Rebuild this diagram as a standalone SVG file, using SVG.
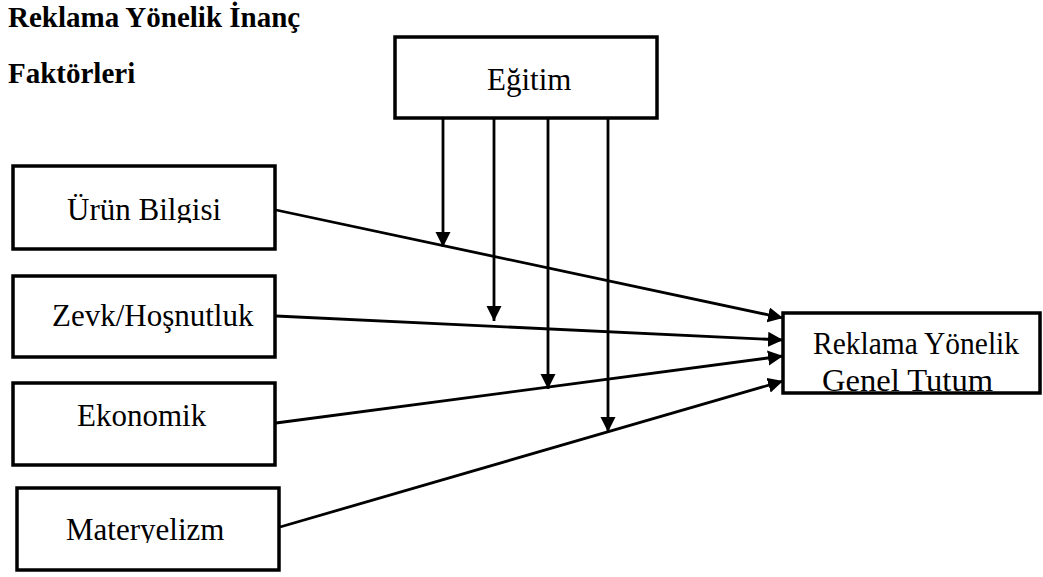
<svg xmlns="http://www.w3.org/2000/svg" width="1043" height="577" viewBox="0 0 1043 577">
<style>
.box{fill:#fff;stroke:#000;stroke-width:3.5}
.t{font-family:'Liberation Serif',serif;font-size:31px;fill:#000}
.h{font-family:'Liberation Serif',serif;font-size:29px;font-weight:bold;fill:#000}
.c{stroke:#000;stroke-width:2.8;fill:none;marker-end:url(#ah)}
</style>
<defs>
<marker id="ah" markerUnits="userSpaceOnUse" markerWidth="16" markerHeight="16" refX="15" refY="7.5" orient="auto">
<path d="M0,0 L15,7.5 L0,15 Z" fill="#000"/>
</marker>
<clipPath id="c1"><rect x="14" y="168" width="260" height="55"/></clipPath>
<clipPath id="c5"><rect x="19" y="490" width="258" height="53"/></clipPath>
<clipPath id="c6"><rect x="785" y="315" width="254" height="77"/></clipPath>
</defs>
<text class="h" x="8" y="27">Reklama Yönelik İnanç</text>
<text class="h" x="8" y="83">Faktörleri</text>
<g id="egitim">
<rect class="box" x="395" y="37" width="262" height="81"/>
<text class="t" x="487" y="90">Eğitim</text>
</g>
<g id="urun">
<rect class="box" x="13" y="166" width="262" height="83"/>
<text class="t" x="67" y="220" clip-path="url(#c1)">Ürün Bilgisi</text>
</g>
<g id="zevk">
<rect class="box" x="13" y="276" width="262" height="81"/>
<text class="t" x="52" y="326">Zevk/Hoşnutluk</text>
</g>
<g id="ekonomik">
<rect class="box" x="13" y="383" width="262" height="82"/>
<text class="t" x="77" y="426">Ekonomik</text>
</g>
<g id="materyelizm">
<rect class="box" x="17" y="488" width="262" height="82"/>
<text class="t" x="66" y="540" clip-path="url(#c5)">Materyelizm</text>
</g>
<g id="tutum">
<rect class="box" x="783" y="313" width="257" height="80"/>
<text class="t" x="813" y="354" font-size="29.5" textLength="206" lengthAdjust="spacingAndGlyphs">Reklama Yönelik</text>
<text class="t" x="822" y="391" textLength="171" lengthAdjust="spacingAndGlyphs" clip-path="url(#c6)">Genel Tutum</text>
</g>
<g id="connectors">
<line class="c" x1="276" y1="210" x2="783" y2="318"/>
<line class="c" x1="276" y1="316" x2="783" y2="340"/>
<line class="c" x1="276" y1="423" x2="783" y2="356"/>
<line class="c" x1="280" y1="527" x2="783" y2="381"/>
<line class="c" x1="443" y1="119" x2="443" y2="247"/>
<line class="c" x1="494" y1="119" x2="494" y2="321"/>
<line class="c" x1="548" y1="119" x2="548" y2="389"/>
<line class="c" x1="608" y1="119" x2="608" y2="432"/>
</g>
</svg>
